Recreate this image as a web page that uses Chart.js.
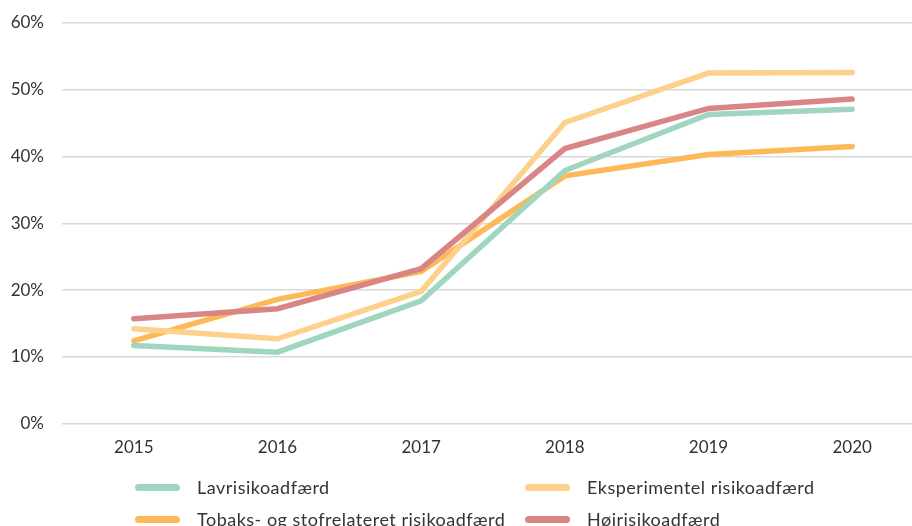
<!DOCTYPE html>
<html>
<head>
<meta charset="utf-8">
<script src="https://cdn.jsdelivr.net/npm/chart.js@4"></script>
<style>
  html, body { margin: 0; padding: 0; background: #fff; }
  #wrap { position: relative; width: 912px; height: 526px; overflow: hidden; font-family: Lato, sans-serif; }
  #box { position: absolute; left: 0; top: 0; width: 924px; height: 472px; }
  #legend { position: absolute; left: 0; top: 0; width: 912px; height: 526px; pointer-events: none; }
  .item { position: absolute; display: flex; align-items: center; font-size: 18px; letter-spacing: 0.5px; color: #333; white-space: nowrap; }
  .swatch { width: 45px; height: 7px; border-radius: 4px; margin-right: 17px; }
</style>
</head>
<body>
<div id="wrap">
  <div id="box"><canvas id="chart"></canvas></div>
  <div id="legend"></div>
</div>
<script>
const years = ["2015", "2016", "2017", "2018", "2019", "2020"]
const yTicks = [0, 10, 20, 30, 40, 50, 60]

const lav = [11.7, 10.7, 18.4, 37.9, 46.3, 47.1]
const eksperimentel = [14.2, 12.7, 19.8, 45.1, 52.5, 52.6]
const tobaks = [12.4, 18.6, 22.8, 37.1, 40.3, 41.5]
const hoej = [15.7, 17.2, 23.2, 41.2, 47.2, 48.6]

const names = ["Lavrisikoadfærd", "Eksperimentel risikoadfærd", "Tobaks- og stofrelateret risikoadfærd", "Højrisikoadfærd"]
const colors = ["#a0d6c0", "#fdd08c", "#fdb959", "#d98585"]
// legend slots (left, center y)
const slots = [[135, 487], [525, 487], [135, 519], [525, 519]]

const series = [lav, eksperimentel, tobaks, hoej]
const drawOrder = [1, 2, 3, 0]

const ctx = document.getElementById("chart").getContext("2d")
new Chart(ctx, {
    type: "line",
    data: {
        labels: years,
        datasets: series.map((d, i) => ({
            label: names[i],
            data: d,
            borderColor: colors[i],
            backgroundColor: colors[i],
            borderWidth: 5.5,
            borderCapStyle: "round",
            borderJoinStyle: "miter",
            pointRadius: 0,
            tension: 0,
            order: drawOrder[i]
        }))
    },
    options: {
        responsive: true,
        maintainAspectRatio: false,
        animation: false,
        layout: { padding: { top: 23, right: 0, bottom: 0, left: 0 } },
        scales: {
            x: {
                offset: true,
                grid: { display: false, drawTicks: false },
                border: { display: false },
                ticks: { padding: 14, color: "#333", font: { family: "Lato", size: 17 } }
            },
            y: {
                min: 0,
                max: 60,
                afterBuildTicks: s => { s.ticks = yTicks.map(v => ({ value: v })) },
                afterFit: s => { s.width = 62; s.paddingTop = 0 },
                grid: { color: "#d9d9d9", lineWidth: 1.5, drawTicks: false },
                border: { display: false },
                ticks: {
                    padding: 18,
                    color: "#333",
                    font: { family: "Lato", size: 17 },
                    callback: v => v + "%"
                }
            }
        },
        plugins: {
            legend: { display: false },
            tooltip: { enabled: false }
        }
    }
})

const legend = document.getElementById("legend")
names.forEach((n, i) => {
    const el = document.createElement("div")
    el.className = "item"
    el.style.left = slots[i][0] + "px"
    el.style.top = (slots[i][1] - 11) + "px"
    el.style.height = "22px"
    el.innerHTML = '<span class="swatch" style="background:' + colors[i] + '"></span><span>' + n + '</span>'
    legend.appendChild(el)
})
</script>
</body>
</html>
